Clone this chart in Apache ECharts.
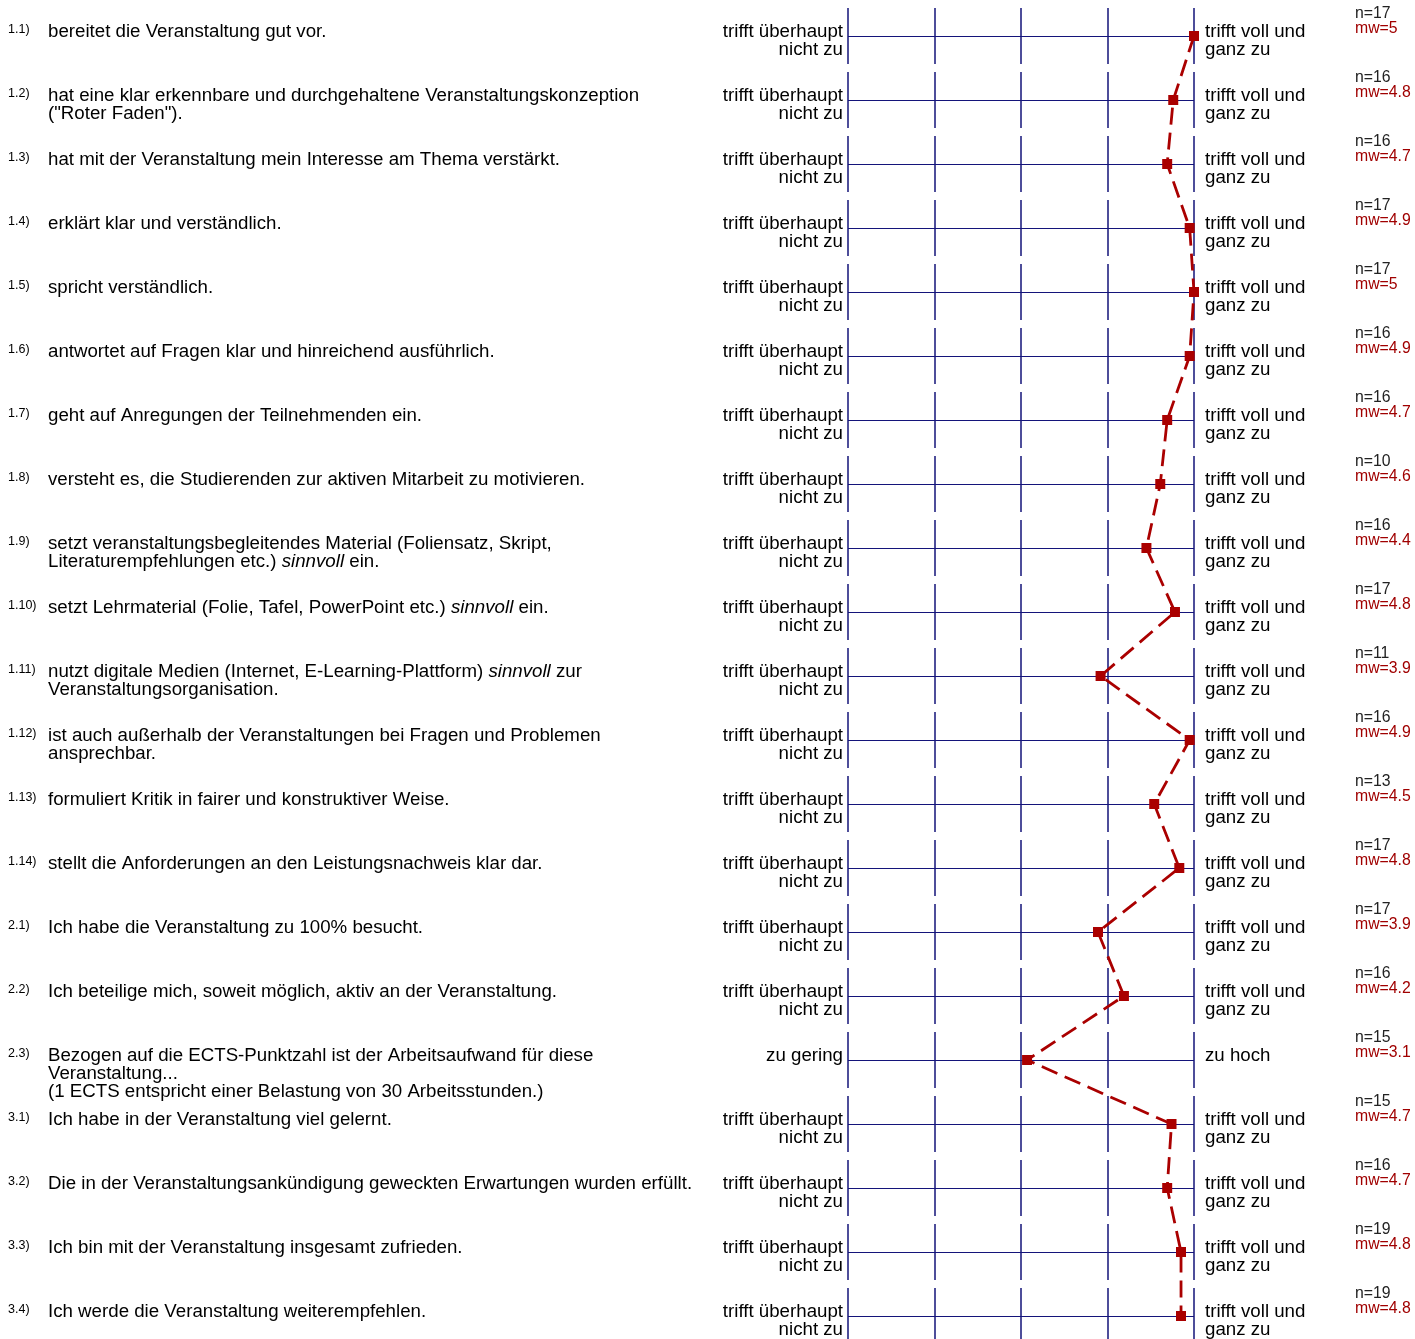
<!DOCTYPE html>
<html>
<head>
<meta charset="utf-8">
<script src="https://cdn.jsdelivr.net/npm/echarts@6/dist/echarts.min.js"></script>
<style>
  html, body { margin: 0; padding: 0; background: #fff; }
  #chart { width: 1415px; height: 1339px; }
</style>
</head>
<body>
<div id="chart"></div>
<script>
// Fragen-Nummern
const nums = ["1.1)", "1.2)", "1.3)", "1.4)", "1.5)", "1.6)", "1.7)", "1.8)", "1.9)", "1.10)", "1.11)",
  "1.12)", "1.13)", "1.14)", "2.1)", "2.2)", "2.3)", "3.1)", "3.2)", "3.3)", "3.4)"];

// Fragentexte (*...* = kursiv)
const questions = [
  "bereitet die Veranstaltung gut vor.",
  "hat eine klar erkennbare und durchgehaltene Veranstaltungskonzeption\n(\"Roter Faden\").",
  "hat mit der Veranstaltung mein Interesse am Thema verstärkt.",
  "erklärt klar und verständlich.",
  "spricht verständlich.",
  "antwortet auf Fragen klar und hinreichend ausführlich.",
  "geht auf Anregungen der Teilnehmenden ein.",
  "versteht es, die Studierenden zur aktiven Mitarbeit zu motivieren.",
  "setzt veranstaltungsbegleitendes Material (Foliensatz, Skript,\nLiteraturempfehlungen etc.) *sinnvoll* ein.",
  "setzt Lehrmaterial (Folie, Tafel, PowerPoint etc.) *sinnvoll* ein.",
  "nutzt digitale Medien (Internet, E-Learning-Plattform) *sinnvoll* zur\nVeranstaltungsorganisation.",
  "ist auch außerhalb der Veranstaltungen bei Fragen und Problemen\nansprechbar.",
  "formuliert Kritik in fairer und konstruktiver Weise.",
  "stellt die Anforderungen an den Leistungsnachweis klar dar.",
  "Ich habe die Veranstaltung zu 100% besucht.",
  "Ich beteilige mich, soweit möglich, aktiv an der Veranstaltung.",
  "Bezogen auf die ECTS-Punktzahl ist der Arbeitsaufwand für diese\nVeranstaltung...\n(1 ECTS entspricht einer Belastung von 30 Arbeitsstunden.)",
  "Ich habe in der Veranstaltung viel gelernt.",
  "Die in der Veranstaltungsankündigung geweckten Erwartungen wurden erfüllt.",
  "Ich bin mit der Veranstaltung insgesamt zufrieden.",
  "Ich werde die Veranstaltung weiterempfehlen."
];

const L = "trifft überhaupt\nnicht zu", R = "trifft voll und\nganz zu";
const leftPoles = [L, L, L, L, L, L, L, L, L, L, L, L, L, L, L, L, "zu gering", L, L, L, L];
const rightPoles = [R, R, R, R, R, R, R, R, R, R, R, R, R, R, R, R, "zu hoch", R, R, R, R];

const nValues = [17, 16, 16, 17, 17, 16, 16, 10, 16, 17, 11, 16, 13, 17, 17, 16, 15, 15, 16, 19, 19];
const mwValues = ["5", "4.8", "4.7", "4.9", "5", "4.9", "4.7", "4.6", "4.4", "4.8", "3.9", "4.9", "4.5",
  "4.8", "3.9", "4.2", "3.1", "4.7", "4.7", "4.8", "4.8"];

// Lage der Profilpunkte (aus dem Bild gelesen)
const profile = [5.0, 4.76, 4.69, 4.95, 5.0, 4.95, 4.69, 4.61, 4.45, 4.78, 3.92, 4.95, 4.54, 4.83,
  3.89, 4.19, 3.07, 4.74, 4.69, 4.85, 4.85];

const scaleTicks = [1, 2, 3, 4, 5];

const NAVY = "#14147a";
const RED = "#aa0000";
const FONT = "Liberation Sans";
const FS = 18.7;

function richLine(s) {
  return s.split("*").map((p, k) => p ? (k % 2 ? "{it|" + p + "}" : "{t|" + p + "}") : "").join("");
}

let chart = echarts.init(document.getElementById("chart"));

const option = {
  backgroundColor: "#fff",
  animation: false,
  grid: [
    // Profil
    { left: 848, width: 346, top: 4, height: 1344, outerBoundsMode: "none", containLabel: false },
    // Beschriftungen (obere Kante der Texte)
    { left: 848, width: 346, top: -9, height: 1344, outerBoundsMode: "none", containLabel: false }
  ],
  xAxis: [
    {
      type: "value",
      gridIndex: 0,
      min: 1,
      max: 5,
      interval: 1,
      axisLine: { show: false },
      axisTick: { show: false },
      axisLabel: { show: false },
      splitLine: {
        show: true,
        showMinLine: true,
        showMaxLine: true,
        lineStyle: { color: NAVY, width: 1.5, type: [56, 8], dashOffset: 60 }
      }
    },
    {
      type: "value",
      gridIndex: 1,
      min: scaleTicks[0],
      max: scaleTicks[scaleTicks.length - 1],
      show: false
    }
  ],
  yAxis: [
    {
      // Zeilen des Profils
      type: "category",
      gridIndex: 0,
      inverse: true,
      data: nums,
      axisLine: { show: false },
      axisTick: { show: false },
      axisLabel: { show: false },
      splitLine: { show: false }
    },
    {
      // n / mw
      type: "category",
      gridIndex: 0,
      position: "right",
      inverse: true,
      data: nums,
      axisLine: { show: false },
      axisTick: { show: false },
      axisLabel: {
        interval: 0,
        margin: 161,
        align: "left",
        verticalAlign: "bottom",
        formatter: (v, i) => "{n|n=" + nValues[i] + "}\n{mw|mw=" + mwValues[i] + "}",
        rich: {
          n: { fontFamily: FONT, fontSize: 15.8, lineHeight: 17, color: "#222" },
          mw: { fontFamily: FONT, fontSize: 15.8, lineHeight: 14, color: "#a00000" }
        }
      }
    },
    {
      // Fragen
      type: "category",
      gridIndex: 1,
      position: "left",
      inverse: true,
      data: questions,
      axisLine: { show: false },
      axisTick: { show: false },
      axisLabel: {
        interval: 0,
        margin: 840,
        align: "left",
        verticalAlign: "top",
        formatter: (v, i) => questions[i].split("\n").map((ln, k) =>
          (k === 0 ? "{num|" + nums[i] + "}" : "{ind| }") + richLine(ln)).join("\n"),
        rich: {
          num: { fontFamily: FONT, fontSize: 12.5, width: 40, lineHeight: 18, verticalAlign: "top", color: "#000" },
          ind: { fontFamily: FONT, fontSize: FS, width: 40, lineHeight: 18 },
          t: { fontFamily: FONT, fontSize: FS, lineHeight: 18, color: "#000" },
          it: { fontFamily: FONT, fontSize: FS, lineHeight: 18, fontStyle: "italic", color: "#000" }
        }
      }
    },
    {
      // linker Pol
      type: "category",
      gridIndex: 1,
      position: "left",
      inverse: true,
      data: leftPoles,
      axisLine: { show: false },
      axisTick: { show: false },
      axisLabel: {
        interval: 0,
        margin: 5,
        align: "right",
        verticalAlign: "top",
        fontFamily: FONT,
        fontSize: FS,
        lineHeight: 18,
        color: "#000"
      }
    },
    {
      // rechter Pol
      type: "category",
      gridIndex: 1,
      position: "right",
      inverse: true,
      data: rightPoles,
      axisLine: { show: false },
      axisTick: { show: false },
      axisLabel: {
        interval: 0,
        margin: 11,
        align: "left",
        verticalAlign: "top",
        fontFamily: FONT,
        fontSize: FS,
        lineHeight: 18,
        color: "#000"
      }
    }
  ],
  series: [
    {
      // waagerechte Linien je Frage
      type: "line",
      xAxisIndex: 0,
      yAxisIndex: 0,
      data: [],
      z: 1,
      markLine: {
        silent: true,
        z: 1,
        symbol: "none",
        label: { show: false },
        lineStyle: { color: NAVY, width: 1.2, type: "solid" },
        data: nums.map(n => ({ yAxis: n }))
      }
    },
    {
      type: "line",
      xAxisIndex: 0,
      yAxisIndex: 0,
      z: 5,
      data: profile.map((v, i) => [v, i]),
      symbol: "rect",
      symbolSize: 10,
      itemStyle: { color: RED },
      lineStyle: { color: RED, width: 2.8, type: [17, 8] }
    }
  ]
};

chart.setOption(option);
</script>
</body>
</html>
